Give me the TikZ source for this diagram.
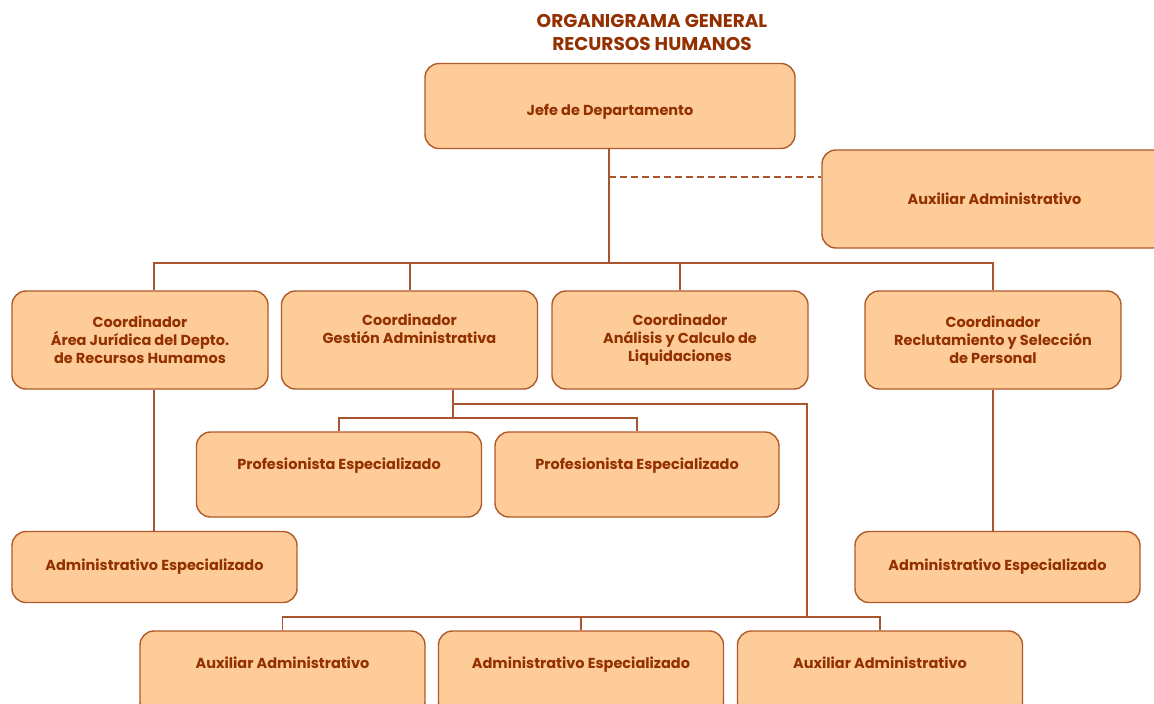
\documentclass[tikz,border=0pt]{standalone}
\usepackage{fontspec}
\setmainfont{Poppins}
\definecolor{boxfill}{HTML}{FECC99}
\definecolor{boxline}{HTML}{B05A2A}
\definecolor{txt}{HTML}{933000}
\definecolor{conn}{HTML}{A85530}
\tikzset{
  orgbox/.style={draw=boxline, fill=boxfill, line width=1.4pt, rounded corners=14pt,
    inner sep=0pt, font=\bfseries\fontsize{14.5}{18}\selectfont, text=txt, align=center},
  conline/.style={draw=conn, line width=1.5pt},
  dashline/.style={conline, dash pattern=on 7pt off 4pt},
  titletxt/.style={font=\bfseries\fontsize{18.5}{23}\selectfont, text=txt, align=center, inner sep=0pt}
}
\begin{document}
\begin{tikzpicture}[x=1pt,y=-1pt]
\useasboundingbox[fill=white] (0,0) rectangle (1154,704);
\clip (0,0) rectangle (1154,704);
\node[titletxt] (title) at (652,32) {ORGANIGRAMA GENERAL\\RECURSOS HUMANOS};
% top
\node[orgbox, minimum width=370pt, minimum height=85pt, text height=20pt, text depth=2pt] (jefe) at (610,106) {Jefe de Departamento};
\node[orgbox, minimum width=345pt, minimum height=98pt] (aux0) at (994.5,199) {Auxiliar Administrativo};
% coordinators
\node[orgbox, minimum width=256pt, minimum height=98pt] (c1) at (140,340) {Coordinador\\Área Jurídica del Depto.\\de Recursos Humamos};
\node[orgbox, minimum width=256pt, minimum height=98pt] (c2) at (409.5,340) {Coordinador\\Gestión Administrativa\\\strut};
\node[orgbox, minimum width=256pt, minimum height=98pt] (c3) at (680,340) {Coordinador\\Análisis y Calculo de\\Liquidaciones};
\node[orgbox, minimum width=256pt, minimum height=98pt] (c4) at (993,340) {Coordinador\\Reclutamiento y Selección\\de Personal};
% profesionistas
\node[orgbox, minimum width=285pt, minimum height=85pt, text height=2pt, text depth=13pt] (p1) at (339,474.5) {Profesionista Especializado};
\node[orgbox, minimum width=284pt, minimum height=85pt, text height=2pt, text depth=13pt] (p2) at (637,474.5) {Profesionista Especializado};
% admin especializado
\node[orgbox, minimum width=285pt, minimum height=71pt] (a1) at (154.5,567) {Administrativo Especializado};
\node[orgbox, minimum width=285pt, minimum height=71pt] (a2) at (997.5,567) {Administrativo Especializado};
% bottom
\node[orgbox, minimum width=285pt, minimum height=85pt, text height=2pt, text depth=13pt] (b1) at (282.5,673.5) {Auxiliar Administrativo};
\node[orgbox, minimum width=285pt, minimum height=85pt, text height=2pt, text depth=13pt] (b2) at (581,673.5) {Administrativo Especializado};
\node[orgbox, minimum width=285pt, minimum height=85pt, text height=2pt, text depth=13pt] (b3) at (880,673.5) {Auxiliar Administrativo};
% connectors
\coordinate (bus) at (609,263);
\coordinate (d1) at (154,263);
\coordinate (d2) at (410,263);
\coordinate (d3) at (680,263);
\coordinate (d4) at (993,263);
\draw[conline] (jefe.south -| bus) -- (bus);
\draw[dashline] (609,177) -- (aux0.west |- 0,177);
\draw[conline] (c1.north -| d1) -- (d1) -- (d4) -- (c4.north -| d4);
\draw[conline] (c2.north -| d2) -- (d2);
\draw[conline] (c3.north -| d3) -- (d3);
\draw[conline] (c1.south -| d1) -- (a1.north -| d1);
\draw[conline] (c4.south -| d4) -- (a2.north -| d4);
\coordinate (g1) at (453,404);
\coordinate (g2) at (453,418);
\coordinate (g3) at (807,404);
\coordinate (g4) at (807,617);
\draw[conline] (c2.south -| g1) -- (g2);
\draw[conline] (g1) -- (g3) -- (g4);
\draw[conline] (p1.north) -- (p1.north |- g2) -- (p2.north |- g2) -- (p2.north);
\draw[conline] (b1.north) -- (b1.north |- g4) -- (b3.north |- g4) -- (b3.north);
\draw[conline] (b2.north) -- (b2.north |- g4);
\end{tikzpicture}
\end{document}
